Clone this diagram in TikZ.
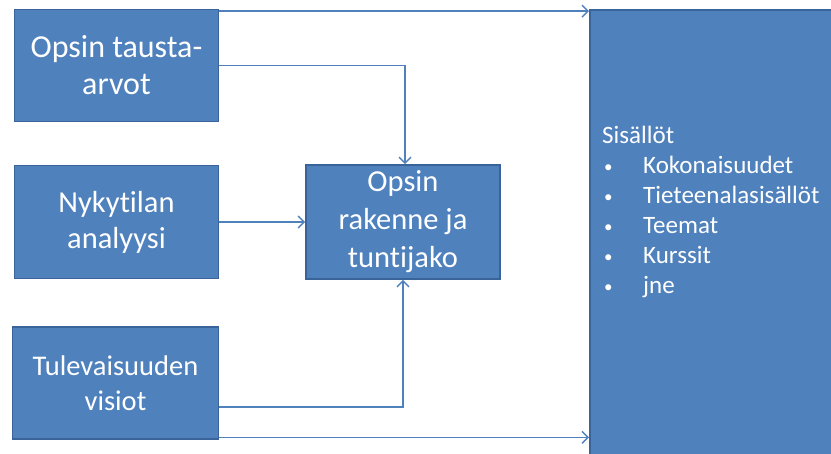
\documentclass[tikz,border=0pt]{standalone}
\usepackage{fontspec}
\setmainfont{Carlito}[Ligatures={TeX,NoCommon}]
\usetikzlibrary{arrows.meta}
\definecolor{boxblue}{HTML}{4F81BD}
\definecolor{boxedge}{HTML}{3A639A}
\definecolor{linkblue}{HTML}{4F81BD}
\newcommand{\itembullet}{\hspace*{2pt}\makebox[39pt][l]{\raisebox{1pt}{\fontsize{17}{17}\selectfont •}}}
\begin{document}
\begin{tikzpicture}[x=1pt,y=-1pt,
  block/.style={draw=boxedge, line width=1.6pt, fill=boxblue, text=white,
                align=center, inner sep=0pt},
  link/.style={draw=linkblue, line width=1.4pt,
               -{Straight Barb[length=6pt,width=12pt,line width=1.4pt]}}]
\useasboundingbox (0,0) rectangle (831,454);
\begin{scope}
\clip (0,0) rectangle (831,454);

% input blocks on the left
\node[block, minimum width=204pt, minimum height=112pt,
      font=\fontsize{32}{37}\selectfont] (b1) at (116.5,65.5) {Opsin tausta-\\arvot};
\node[block, minimum width=204pt, minimum height=113pt,
      font=\fontsize{30.5}{36}\selectfont] (b2) at (116.5,222) {Nykytilan\\analyysi};
\node[block, minimum width=206pt, minimum height=112pt,
      font=\fontsize{28.5}{35}\selectfont] (b3) at (115.5,383) {Tulevaisuuden\\visiot};

% structure block in the middle
\node[block, minimum width=194pt, minimum height=114pt,
      font=\fontsize{30.5}{38}\selectfont] (c) at (403,222) {Opsin\\rakenne ja\\tuntijako};

% contents block on the right, running off the page edge
\node[block, anchor=north west, minimum width=260pt, minimum height=470pt] (sis) at (589,9.5) {};
\node[anchor=north west, text=white, align=left, inner sep=0pt,
      font=\fontsize{25}{30}\selectfont] (txt) at (602,126)
  {Sisällöt\\
   \itembullet Kokonaisuudet\\
   \itembullet Tieteenalasisällöt\\
   \itembullet Teemat\\
   \itembullet Kurssit\\
   \itembullet jne};

% connectors
\draw[link] ([yshift=-2.5pt]b1.north east) -- ([yshift=-2.5pt]b1.north east -| sis.west);
\draw[link] (b1.east) -| ([xshift=2pt]c.north);
\draw[link] (b2.east) -- (c.west);
\draw[link] ([yshift=-24pt]b3.east) -| (c.south);
\draw[link] ([yshift=2.5pt]b3.south east) -- ([yshift=2.5pt]b3.south east -| sis.west);
\end{scope}
\end{tikzpicture}
\end{document}
